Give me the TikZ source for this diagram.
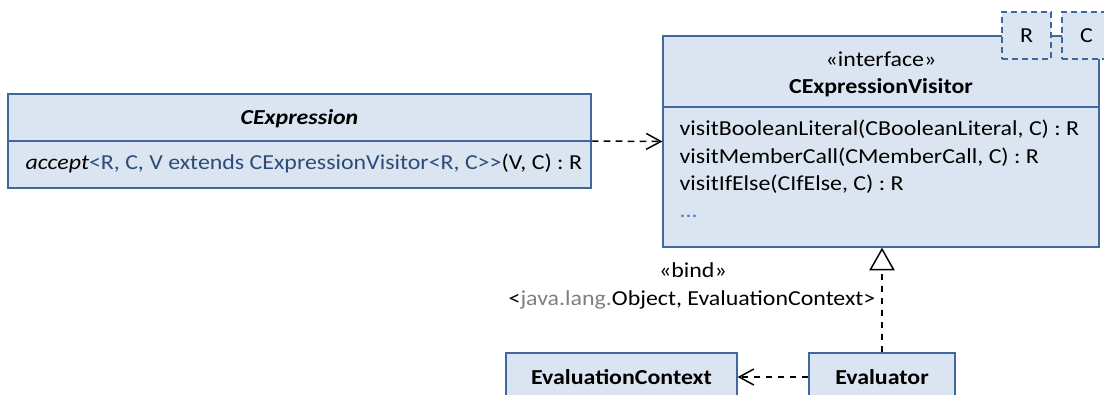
\documentclass[tikz,border=0pt]{standalone}
\usepackage{fontspec}
\setmainfont[FakeStretch=1.12]{Carlito}
\usetikzlibrary{arrows.meta,fit}

\begin{document}
\begin{tikzpicture}[x=0.75pt,y=-0.75pt, line width=1pt, font=\fontsize{16}{19}\selectfont]
        \definecolor{boxfill}{RGB}{219,229,241}
        \definecolor{boxline}{RGB}{65,104,158}
        \definecolor{typecolor}{RGB}{45,75,120}
        \definecolor{dotcolor}{RGB}{79,129,189}
        \definecolor{pkgcolor}{RGB}{128,128,128}
        \tikzset{
            classbox/.style={draw=boxline, fill=boxfill, inner sep=0pt},
            parambox/.style={classbox, dash pattern=on 4.5pt off 3pt},
            txt/.style={inner sep=0pt},
            dep/.style={line width=1.1pt, dash pattern=on 5pt off 4pt, -{Straight Barb[length=11pt,width=12pt]}},
            real/.style={line width=1.1pt, dash pattern=on 5pt off 4pt, -{Triangle[open,length=17pt,width=19pt,fill=white]}}
        }
        \useasboundingbox (0,0) rectangle (1104,394);

        % CExpression
        \node[classbox, fit={(8,94) (591,188)}] (expr) {};
        \draw[boxline] (8,141) -- (591,141);
        \node[txt, anchor=base] (exprname) at (299.5,124) {\textbf{\textit{CExpression}}};
        \node[txt, anchor=base west] (accept) at (25,169) {\textit{accept}\textcolor{typecolor}{<R, C, V extends CExpressionVisitor<R, C>{}>}(V, C) : R};

        % CExpressionVisitor with its parameters
        \node[classbox, fit={(663,36) (1099,247)}] (visitor) {};
        \draw[boxline] (663,107) -- (1099,107);
        \node[parambox, fit={(1002,12) (1051,59)}] (paramR) {};
        \node[parambox, fit={(1062,12) (1111,59)}] (paramC) {};
        \node[txt, anchor=base] (Rname) at (paramR.center |- 0,42) {R};
        \node[txt, anchor=base] (Cname) at (paramC.center |- 0,42) {C};
        \node[txt, anchor=base] (stereo) at (881,66) {«interface»};
        \node[txt, anchor=base] (visitorname) at (881,93) {\textbf{CExpressionVisitor}};
        \node[txt, anchor=base west] (opA) at (679,135) {visitBooleanLiteral(CBooleanLiteral, C) : R};
        \node[txt, anchor=base west] (opB) at (679,163) {visitMemberCall(CMemberCall, C) : R};
        \node[txt, anchor=base west] (opC) at (679,190) {visitIfElse(CIfElse, C) : R};
        \node[txt, anchor=base west, text=dotcolor] (opD) at (679,217) {...};

        % EvaluationContext and Evaluator
        \node[classbox, fit={(506,353) (737,401)}] (ctx) {};
        \node[txt, anchor=base] (ctxname) at (ctx.center |- 0,384) {\textbf{EvaluationContext}};
        \node[classbox, fit={(809,353) (955,401)}] (eval) {};
        \node[txt, anchor=base] (evalname) at (eval.center |- 0,384) {\textbf{Evaluator}};

        % Connectors
        \draw[dep] (expr.east) -- (visitor.west);
        \draw[dep] (eval.west) -- (ctx.east);
        \draw[real] (eval.north) -- (eval.north |- visitor.south);
        \node[txt, anchor=base] (bind) at (693,277) {«bind»};
        \node[txt, anchor=base] (bindargs) at (692,305) {<\textcolor{pkgcolor}{java.lang.}Object, EvaluationContext>};
    \end{tikzpicture}
\end{document}
